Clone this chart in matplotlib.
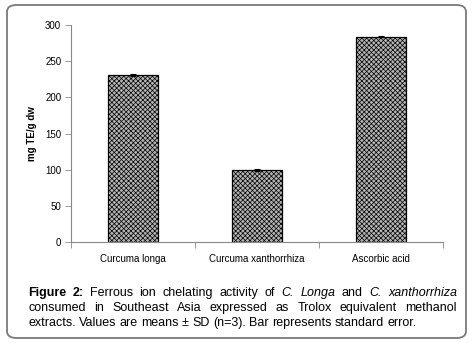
import matplotlib
matplotlib.use('Agg')
from matplotlib import pyplot as plt
from matplotlib.patches import FancyBboxPatch

plt.rcParams['font.family'] = ['Liberation Sans', 'DejaVu Sans']
plt.rcParams['hatch.linewidth'] = 0.5

categories = ['Curcuma longa', 'Curcuma xanthorrhiza', 'Ascorbic acid']
values = [231, 99, 284]
errors = [1.5, 1.5, 1.0]
yticks = [0, 50, 100, 150, 200, 250, 300]

caption = [
    [('Figure', 'bold', 'normal'), ('2:', 'bold', 'normal'), ('Ferrous', 'normal', 'normal'),
     ('ion', 'normal', 'normal'), ('chelating', 'normal', 'normal'), ('activity', 'normal', 'normal'),
     ('of', 'normal', 'normal'), ('C.', 'normal', 'italic'), ('Longa', 'normal', 'italic'),
     ('and', 'normal', 'normal'), ('C.', 'normal', 'italic'), ('xanthorrhiza', 'normal', 'italic')],
    [(w, 'normal', 'normal') for w in
     'consumed in Southeast Asia expressed as Trolox equivalent methanol'.split()],
    [(w, 'normal', 'normal') for w in
     'extracts. Values are means ± SD (n=3). Bar represents standard error.'.split()],
]

W, H = 473, 343
fig = plt.figure(figsize=(W / 100, H / 100), dpi=100)

# rounded frame around figure + caption
frame = FancyBboxPatch((7 / W, 5 / H), 459 / W, 333 / H,
                       boxstyle='round,pad=0,rounding_size=0.02',
                       transform=fig.transFigure, fill=False,
                       edgecolor='#7a7a7a', linewidth=1.3)
fig.patches.append(frame)

ax = fig.add_axes([71 / W, 1 - 242 / H, 372 / W, 217 / H])
x = range(len(categories))
ax.bar(x, values, width=0.4, color='#b4b4b4', edgecolor='black',
       hatch='xxxxxxx', linewidth=0.9, zorder=2)
ax.errorbar(x, values, yerr=errors, fmt='none', ecolor='black',
            elinewidth=0.8, capsize=2.5, capthick=0.8, zorder=3)

ax.set_xlim(-0.5, 2.5)
ax.set_ylim(0, 300)
ax.set_yticks(yticks)
ax.tick_params(axis='y', labelsize=7, length=4, width=0.6, direction='out', pad=3,
               color='#888888')
ax.set_xticks([-0.5, 0.5, 1.5, 2.5])
ax.set_xticklabels([])
ax.set_xticks(list(x), minor=True)
ax.set_xticklabels(categories, minor=True, fontsize=7)
ax.tick_params(axis='x', which='major', length=4, width=0.6, color='#888888')
ax.tick_params(axis='x', which='minor', length=0, pad=9)
ax.spines['top'].set_visible(False)
ax.spines['right'].set_visible(False)
ax.spines['left'].set_color('#888888')
ax.spines['bottom'].set_color('#888888')
ax.spines['left'].set_linewidth(0.8)
ax.spines['bottom'].set_linewidth(0.8)
ax.set_ylabel('mg TE/g dw', fontsize=7, fontweight='bold', labelpad=6)

# justified caption
renderer = fig.canvas.get_renderer()
x0, x1 = 28, 457
baselines = [296, 311, 326]
for i, line in enumerate(caption):
    texts = []
    total = 0
    for word, weight, style in line:
        t = fig.text(0, 0, word, fontsize=9, fontweight=weight, fontstyle=style,
                     va='baseline', ha='left')
        w = t.get_window_extent(renderer).width
        texts.append((t, w))
        total += w
    if i < len(caption) - 1:
        gap = (x1 - x0 - total) / (len(texts) - 1)
    else:
        gap = 3.3
    pos = x0
    for t, w in texts:
        t.set_position((pos / W, 1 - baselines[i] / H))
        pos += w + gap

fig.savefig('out.png', dpi=100)
